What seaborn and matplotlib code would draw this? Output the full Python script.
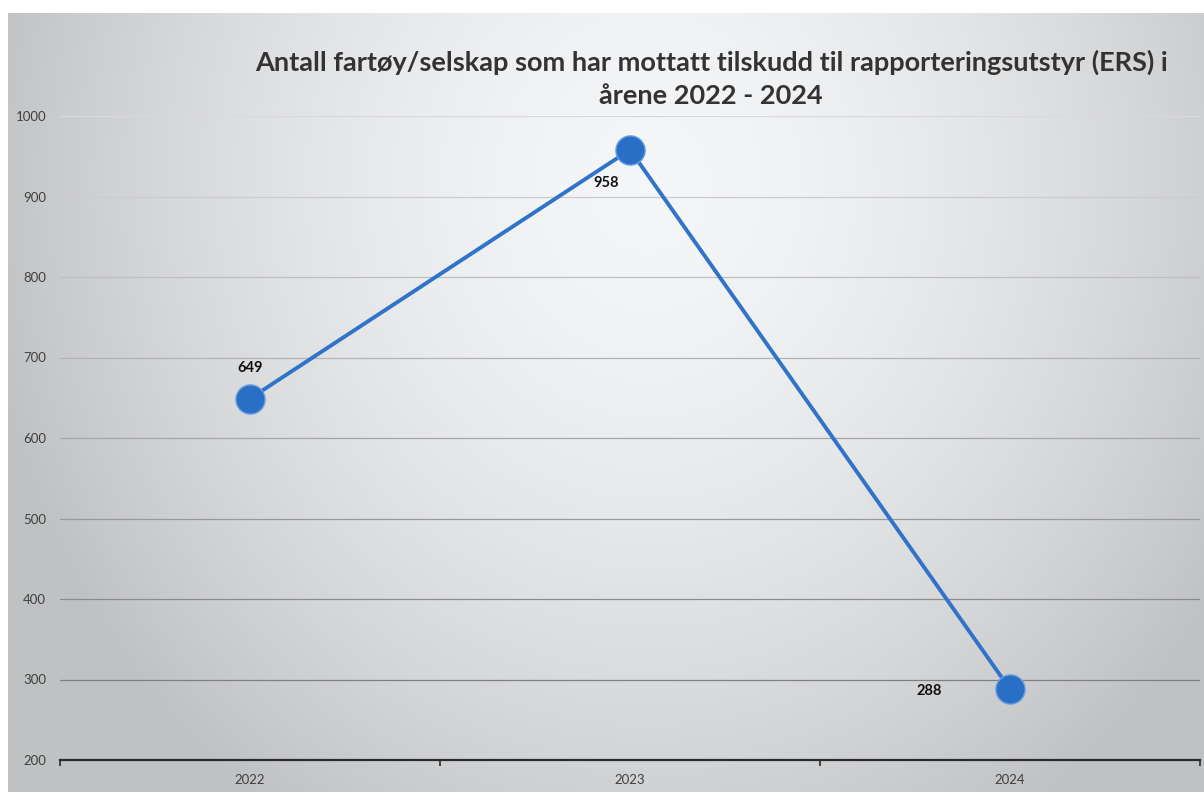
import numpy as np
import pandas as pd
import matplotlib
matplotlib.use("Agg")
import matplotlib.pyplot as plt
import seaborn as sns

years = ["2022", "2023", "2024"]
counts = [649, 958, 288]
title = "Antall fartøy/selskap som har mottatt tilskudd til rapporteringsutstyr (ERS) i\nårene 2022 - 2024"

df = pd.DataFrame({"year": years, "count": counts})

sns.set_style("white")
plt.rcParams["font.family"] = ["Lato", "DejaVu Sans"]

W, H = 1204, 792
fig = plt.figure(figsize=(W / 100, H / 100), dpi=100, facecolor="white")

# radial grey background like the original picture
bg = fig.add_axes([8 / W, 0, 1 - 8 / W, 1 - 13 / H])
yy, xx = np.mgrid[0:779, 0:1196]
d = np.sqrt(((xx - 640) / 640) ** 2 + ((yy - 170) / 720) ** 2)
shade = np.clip(0.965 - 0.19 * d ** 1.6, 0.76, 1)
bg.imshow(np.dstack([shade - 0.005, shade, shade + 0.008]).clip(0, 1), aspect="auto")
bg.set_axis_off()

ax = fig.add_axes([60 / W, 1 - 760 / H, 1140 / W, (760 - 116) / H])
ax.patch.set_alpha(0)

sns.lineplot(data=df, x="year", y="count", ax=ax, color="#2f74c8", linewidth=2.8,
             marker="o", markersize=21, markerfacecolor="#2a6fc6",
             markeredgecolor="#6a9ee0", markeredgewidth=1.0, sort=False)

offsets = [(0, 22), (-17, -24), (-58, -1)]
for yr, v, off in zip(years, counts, offsets):
    ax.annotate(str(v), (yr, v), xytext=off, textcoords="offset points",
                ha="center", va="center", fontsize=10.5, fontweight="bold", color="#111111")

ax.set_xlim(-0.5, 2.5)
ax.set_ylim(200, 1000)
ax.set_yticks(range(200, 1001, 100))
ax.set_xlabel("")
ax.set_ylabel("")

for s in ["top", "right", "left"]:
    ax.spines[s].set_visible(False)
ax.spines["bottom"].set_color("#2b2b2b")
ax.spines["bottom"].set_linewidth(1.6)

ax.set_xticks([-0.5, 0.5, 1.5, 2.5], minor=True)
ax.tick_params(axis="x", which="major", bottom=False, length=0, pad=10, labelsize=9.5, labelcolor="#404040")
ax.tick_params(axis="x", which="minor", bottom=True, length=4, width=1.2, color="#2b2b2b", direction="out")
ax.tick_params(axis="y", length=0, pad=10, labelsize=9.5, labelcolor="#404040")

ax.yaxis.grid(True)
glines = ax.yaxis.get_gridlines()
for i, gl in enumerate(glines):
    t = i / max(len(glines) - 1, 1)
    c = 0.45 + 0.4 * t
    gl.set_color((c, c, c))
    gl.set_linewidth(0.9)
ax.set_axisbelow(True)

fig.text(711 / W, 1 - 79 / H, title, ha="center", va="center", fontsize=19.5,
         fontweight="bold", color="#333333", linespacing=1.42)

fig.savefig("out.png", dpi=100, facecolor="white")
